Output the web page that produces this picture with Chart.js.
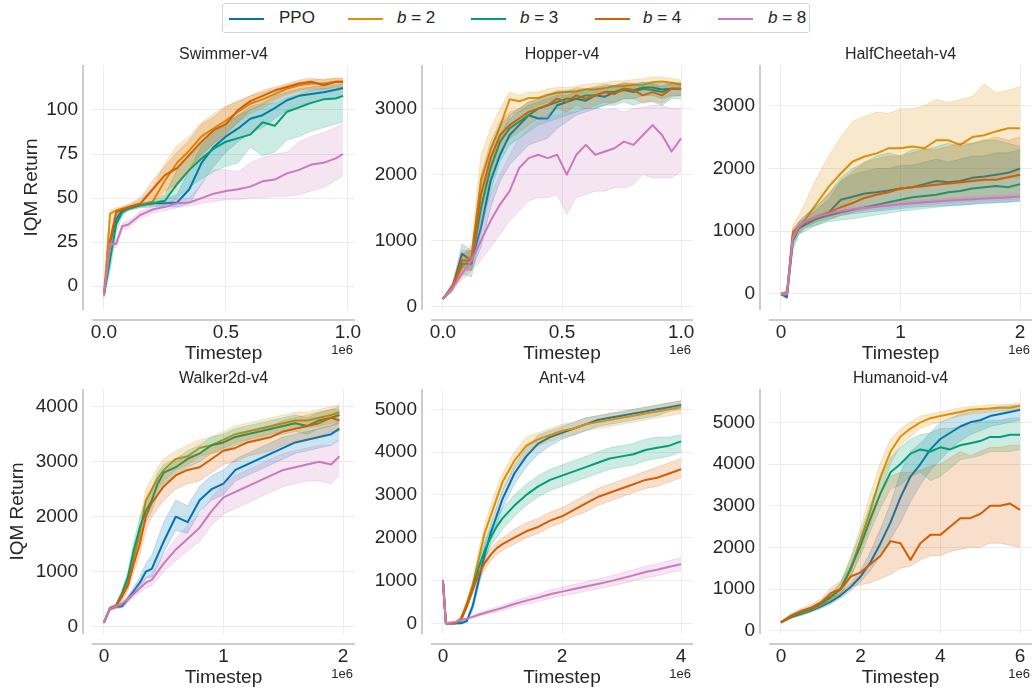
<!DOCTYPE html>
<html>
<head>
<meta charset="utf-8">
<script src="https://cdn.jsdelivr.net/npm/chart.js@4.4.1/dist/chart.umd.min.js"></script>
<style>
  body { margin: 0; width: 1036px; height: 694px; background: #fff; position: relative; overflow: hidden;
         font-family: "Liberation Sans", Arial, sans-serif; color: #262626; }
  canvas { position: absolute; }
  #legend { position: absolute; left: 222px; top: 3px; width: 588px; height: 30px; box-sizing: border-box;
            border: 1px solid #d4d4d4; border-radius: 3px; }
  .sw { position: absolute; top: 14px; width: 35px; height: 2px; }
  .lb { position: absolute; top: 0; height: 28px; line-height: 28px; font-size: 17px; white-space: nowrap; }
</style>
</head>
<body>
<div id="legend">
  <div class="sw" style="left:6px;background:#0173b2"></div><div class="lb" style="left:56px">PPO</div>
  <div class="sw" style="left:125px;background:#de8f05"></div><div class="lb" style="left:174px"><i>b</i> = 2</div>
  <div class="sw" style="left:248px;background:#029e73"></div><div class="lb" style="left:297px"><i>b</i> = 3</div>
  <div class="sw" style="left:372px;background:#d55e00"></div><div class="lb" style="left:420px"><i>b</i> = 4</div>
  <div class="sw" style="left:495px;background:#cc78bc"></div><div class="lb" style="left:545px"><i>b</i> = 8</div>
</div>
<canvas id="swimmer"></canvas>
<canvas id="hopper"></canvas>
<canvas id="halfcheetah"></canvas>
<canvas id="walker"></canvas>
<canvas id="ant"></canvas>
<canvas id="humanoid"></canvas>
<script>
// ---- data (x in units of 1e6 timesteps) ----

// Swimmer-v4
const swimmerX      = [0, 0.025, 0.05, 0.075, 0.1, 0.15, 0.2, 0.25, 0.3, 0.35, 0.4, 0.45, 0.5, 0.55, 0.6, 0.65, 0.7, 0.75, 0.8, 0.85, 0.9, 0.95, 0.98];
const swimmerPPO    = [-5, 25, 38, 43, 44, 46, 47, 47, 47.5, 55, 70, 79, 85, 89.5, 95, 97, 101, 105.5, 108, 109, 110, 111.5, 112.5];
const swimmerPPOLo  = [-6, 20, 35, 41, 43, 44.5, 45, 45, 45, 47, 58, 68, 76, 82, 87, 90, 95, 100, 103, 104, 106, 107, 108];
const swimmerPPOHi  = [-4, 30, 41, 44, 45, 47, 48, 49, 52, 66, 80, 87, 92, 97, 102, 104, 108, 110, 112, 113, 114, 114.5, 115];
const swimmerB2     = [-5, 41, 43, 44, 44.5, 46, 48, 60, 70, 77, 85, 89.5, 94, 99, 103.5, 106, 109, 112, 114, 115, 115, 116, 116];
const swimmerB2Lo   = [-6, 35, 41, 43, 43.5, 45, 46, 50, 57, 66, 74, 81, 87, 93, 98, 101, 105, 108, 110, 111, 112, 113, 113];
const swimmerB2Hi   = [-4, 43, 44.5, 45, 46, 49, 56, 70, 80, 85, 93, 98, 102, 105, 108, 110, 112, 114, 116, 117, 117.5, 118, 118];
const swimmerB3     = [-5, 15, 35, 42, 44, 46, 47, 48.5, 58, 66, 72.5, 78, 82, 84, 86, 93, 91, 99, 101.5, 104, 106, 106.5, 108];
const swimmerB3Lo   = [-6, 8, 30, 40, 43, 45, 46, 46, 50, 56, 61, 65, 68, 70, 79, 74, 76, 83, 85, 88, 90, 92, 93];
const swimmerB3Hi   = [-4, 22, 40, 44, 45, 47, 48.5, 52, 66, 75, 82, 88, 93, 97, 100, 103, 104, 107, 109, 111, 112, 112.5, 113];
const swimmerB4     = [-5, 25, 42, 43.5, 45, 47, 55, 63, 67, 74.5, 82, 88.5, 92, 100, 105, 108, 111, 113, 115, 116, 114, 116, 116];
const swimmerB4Lo   = [-6, 20, 40, 42, 44, 45.5, 48, 54, 58, 66, 75, 81, 86, 93, 100, 103, 106, 109, 111, 112, 112, 113, 114];
const swimmerB4Hi   = [-4, 30, 43.5, 45, 46.5, 50, 60, 68, 76, 83, 92, 96, 102, 105, 108, 111, 113, 115, 117, 118, 117, 118, 118];
const swimmerB8     = [-5, 24, 24, 34, 35, 40.5, 43.5, 45, 47, 47.5, 50, 52.5, 54, 55, 56.5, 59.5, 60.5, 64, 66, 69, 70, 72.5, 75];
const swimmerB8Lo   = [-6, 22, 22, 32, 33, 38.5, 41.5, 43, 44.5, 45.5, 47, 48, 49, 49, 50, 50, 51, 51, 52, 54, 56, 60, 63];
const swimmerB8Hi   = [-4, 26, 26, 36, 37, 42.5, 45.5, 47, 49.5, 50, 58, 66, 66, 65, 70, 73, 75, 76, 82, 85, 87, 90, 92];

// Hopper-v4
const hopperX      = [0, 0.04, 0.08, 0.12, 0.16, 0.2, 0.24, 0.28, 0.32, 0.36, 0.4, 0.44, 0.48, 0.52, 0.56, 0.6, 0.64, 0.68, 0.72, 0.76, 0.8, 0.84, 0.88, 0.92, 0.96, 1.0];
const hopperPPO    = [120, 280, 800, 700, 1200, 1900, 2300, 2600, 2750, 2900, 2850, 2850, 3050, 3100, 3150, 3120, 3200, 3180, 3250, 3300, 3280, 3320, 3320, 3290, 3300, 3300];
const hopperPPOLo  = [110, 230, 600, 550, 900, 1500, 1900, 2150, 2300, 2450, 2500, 2550, 2700, 2800, 2900, 2950, 3000, 3050, 3100, 3150, 3150, 3200, 3200, 3150, 3200, 3200];
const hopperPPOHi  = [130, 330, 950, 850, 1500, 2250, 2600, 2850, 2950, 3050, 3100, 3150, 3200, 3200, 3250, 3250, 3300, 3300, 3350, 3380, 3380, 3400, 3400, 3380, 3380, 3380];
const hopperB2     = [120, 310, 600, 760, 1920, 2380, 2730, 3140, 3110, 3160, 3160, 3210, 3240, 3250, 3260, 3290, 3290, 3310, 3340, 3340, 3360, 3360, 3400, 3410, 3390, 3360];
const hopperB2Lo   = [110, 260, 450, 600, 1500, 2050, 2450, 2900, 2950, 3000, 3050, 3100, 3150, 3170, 3180, 3200, 3200, 3220, 3250, 3260, 3280, 3280, 3320, 3330, 3300, 3280];
const hopperB2Hi   = [130, 360, 750, 950, 2300, 2700, 3000, 3250, 3200, 3250, 3250, 3300, 3320, 3320, 3340, 3370, 3380, 3390, 3420, 3420, 3440, 3450, 3480, 3480, 3460, 3430];
const hopperB3     = [120, 300, 650, 650, 1500, 2100, 2500, 2700, 2800, 2900, 3000, 3050, 3100, 3150, 3150, 3200, 3200, 3250, 3250, 3280, 3250, 3300, 3280, 3250, 3300, 3300];
const hopperB3Lo   = [110, 250, 500, 450, 1150, 1750, 2200, 2450, 2550, 2650, 2750, 2800, 2850, 2900, 2950, 3000, 3000, 3050, 3050, 3100, 3050, 3100, 3100, 3050, 3150, 3150];
const hopperB3Hi   = [130, 350, 800, 850, 1850, 2400, 2750, 2900, 3000, 3100, 3150, 3200, 3250, 3280, 3280, 3300, 3320, 3350, 3350, 3370, 3350, 3400, 3380, 3350, 3380, 3380];
const hopperB4     = [120, 300, 700, 700, 1700, 2250, 2600, 2750, 2850, 2950, 3000, 3050, 3150, 3100, 3200, 3150, 3200, 3250, 3220, 3300, 3280, 3200, 3250, 3200, 3300, 3300];
const hopperB4Lo   = [110, 250, 550, 550, 1350, 1950, 2350, 2550, 2650, 2750, 2850, 2900, 3000, 2950, 3050, 3000, 3050, 3100, 3080, 3150, 3150, 3080, 3120, 3080, 3180, 3200];
const hopperB4Hi   = [130, 350, 850, 850, 2000, 2500, 2800, 2950, 3000, 3100, 3150, 3200, 3280, 3250, 3320, 3300, 3330, 3370, 3350, 3400, 3380, 3320, 3370, 3330, 3400, 3400];
const hopperB8     = [120, 280, 500, 700, 1000, 1300, 1550, 1750, 2100, 2250, 2300, 2250, 2300, 2000, 2300, 2450, 2300, 2350, 2400, 2500, 2450, 2600, 2750, 2600, 2350, 2550];
const hopperB8Lo   = [110, 240, 400, 550, 700, 900, 1100, 1300, 1450, 1600, 1650, 1650, 1700, 1400, 1650, 1700, 1750, 1750, 1800, 1800, 1850, 2000, 1950, 1950, 1950, 2050];
const hopperB8Hi   = [130, 320, 600, 850, 1300, 1700, 2000, 2300, 2550, 2700, 2800, 2900, 2900, 2950, 2950, 3000, 3000, 2980, 3000, 2950, 3000, 3020, 3050, 3050, 3000, 3000];

// HalfCheetah-v4
const cheetahX     = [0, 0.05, 0.1, 0.15, 0.2, 0.3, 0.4, 0.5, 0.6, 0.7, 0.8, 0.9, 1.0, 1.1, 1.2, 1.3, 1.4, 1.5, 1.6, 1.7, 1.8, 1.9, 2.0];
const cheetahPPO   = [0, -50, 850, 1050, 1100, 1200, 1300, 1500, 1550, 1600, 1620, 1650, 1680, 1700, 1750, 1800, 1780, 1800, 1850, 1870, 1900, 1930, 2000];
const cheetahPPOLo = [-20, -80, 700, 950, 1000, 1100, 1180, 1250, 1280, 1300, 1320, 1340, 1360, 1380, 1390, 1400, 1410, 1420, 1430, 1440, 1450, 1460, 1480];
const cheetahPPOHi = [20, -20, 950, 1150, 1200, 1350, 1500, 1800, 1900, 1950, 2000, 2000, 2050, 2050, 2100, 2150, 2100, 2150, 2200, 2200, 2250, 2250, 2300];
const cheetahB2    = [0, 30, 990, 1070, 1180, 1445, 1710, 1920, 2110, 2190, 2240, 2320, 2320, 2350, 2320, 2450, 2450, 2375, 2500, 2530, 2590, 2640, 2640];
const cheetahB2Lo  = [-20, 0, 800, 950, 1050, 1150, 1300, 1400, 1500, 1550, 1600, 1650, 1650, 1700, 1700, 1750, 1750, 1750, 1800, 1800, 1850, 1850, 1850];
const cheetahB2Hi  = [20, 60, 1100, 1250, 1450, 1850, 2200, 2500, 2750, 2830, 2900, 2880, 2950, 2950, 3000, 3100, 3050, 3100, 3150, 3350, 3200, 3250, 3300];
const cheetahB3    = [0, 0, 900, 1050, 1130, 1200, 1250, 1300, 1340, 1380, 1420, 1460, 1500, 1540, 1560, 1580, 1620, 1640, 1680, 1700, 1720, 1700, 1750];
const cheetahB3Lo  = [-20, -30, 800, 950, 1050, 1100, 1150, 1180, 1200, 1230, 1260, 1290, 1320, 1340, 1360, 1380, 1400, 1410, 1430, 1450, 1460, 1470, 1480];
const cheetahB3Hi  = [20, 30, 1000, 1150, 1250, 1400, 1600, 1850, 2000, 2100, 2200, 2250, 2200, 2300, 2300, 2350, 2400, 2350, 2400, 2450, 2450, 2400, 2350];
const cheetahB4    = [0, 0, 950, 1080, 1150, 1230, 1300, 1380, 1450, 1530, 1580, 1620, 1680, 1700, 1720, 1740, 1760, 1780, 1800, 1820, 1820, 1860, 1900];
const cheetahB4Lo  = [-20, -30, 850, 1000, 1080, 1150, 1200, 1250, 1300, 1350, 1380, 1400, 1420, 1440, 1450, 1460, 1480, 1490, 1500, 1510, 1520, 1530, 1550];
const cheetahB4Hi  = [20, 30, 1050, 1150, 1250, 1400, 1600, 1800, 1950, 2100, 2150, 2200, 2200, 2250, 2300, 2300, 2350, 2400, 2400, 2450, 2500, 2450, 2500];
const cheetahB8    = [0, 0, 900, 1080, 1150, 1230, 1280, 1320, 1350, 1370, 1390, 1410, 1430, 1445, 1460, 1475, 1490, 1500, 1510, 1520, 1530, 1540, 1550];
const cheetahB8Lo  = [-20, -30, 850, 1040, 1110, 1190, 1240, 1280, 1310, 1330, 1350, 1370, 1390, 1405, 1420, 1435, 1450, 1460, 1470, 1480, 1490, 1500, 1510];
const cheetahB8Hi  = [20, 30, 950, 1120, 1190, 1270, 1320, 1360, 1390, 1410, 1430, 1450, 1470, 1485, 1500, 1515, 1530, 1540, 1550, 1560, 1570, 1580, 1590];

// Walker2d-v4
const walkerX      = [0, 0.05, 0.1, 0.15, 0.2, 0.25, 0.3, 0.35, 0.4, 0.45, 0.5, 0.6, 0.7, 0.8, 0.9, 1.0, 1.1, 1.2, 1.3, 1.4, 1.5, 1.6, 1.7, 1.8, 1.9, 1.97];
const walkerPPO    = [80, 330, 360, 370, 500, 650, 800, 1000, 1050, 1300, 1550, 2000, 1900, 2300, 2500, 2600, 2850, 2950, 3050, 3150, 3250, 3350, 3400, 3450, 3500, 3600];
const walkerPPOLo  = [60, 300, 330, 340, 450, 580, 700, 880, 900, 1100, 1350, 1750, 1700, 2100, 2300, 2400, 2650, 2750, 2850, 2950, 3050, 3150, 3200, 3250, 3300, 3400];
const walkerPPOHi  = [100, 360, 390, 400, 560, 720, 900, 1150, 1300, 1600, 1900, 2300, 2200, 2550, 2750, 2850, 3050, 3150, 3250, 3350, 3450, 3500, 3550, 3600, 3650, 3750];
const walkerB2     = [80, 330, 360, 550, 800, 1250, 1700, 2300, 2500, 2700, 2850, 3050, 3100, 3250, 3300, 3400, 3500, 3550, 3600, 3650, 3700, 3750, 3750, 3800, 3850, 3900];
const walkerB2Lo   = [60, 300, 330, 480, 700, 1100, 1500, 2050, 2300, 2500, 2650, 2850, 2950, 3100, 3150, 3250, 3350, 3400, 3450, 3500, 3550, 3600, 3620, 3650, 3700, 3750];
const walkerB2Hi   = [100, 360, 390, 620, 900, 1400, 1900, 2500, 2700, 2900, 3050, 3200, 3300, 3400, 3450, 3550, 3650, 3700, 3750, 3800, 3850, 3900, 3900, 3950, 4000, 4050];
const walkerB3     = [80, 330, 380, 600, 900, 1400, 1800, 2100, 2300, 2600, 2800, 2900, 3050, 3150, 3300, 3350, 3450, 3500, 3550, 3600, 3650, 3700, 3650, 3750, 3800, 3850];
const walkerB3Lo   = [60, 300, 350, 530, 800, 1250, 1600, 1900, 2100, 2400, 2600, 2750, 2900, 3000, 3150, 3200, 3300, 3350, 3400, 3450, 3500, 3550, 3500, 3600, 3650, 3700];
const walkerB3Hi   = [100, 360, 410, 670, 1000, 1550, 2000, 2300, 2500, 2800, 2950, 3050, 3200, 3300, 3450, 3500, 3600, 3650, 3700, 3750, 3800, 3850, 3800, 3900, 3950, 4000];
const walkerB4     = [80, 330, 380, 550, 750, 1150, 1500, 2000, 2250, 2400, 2550, 2750, 2850, 2900, 3050, 3200, 3250, 3350, 3400, 3450, 3550, 3600, 3650, 3700, 3800, 3750];
const walkerB4Lo   = [60, 300, 350, 480, 650, 1000, 1300, 1750, 2000, 2150, 2300, 2500, 2600, 2650, 2800, 2950, 3000, 3100, 3150, 3200, 3300, 3350, 3400, 3450, 3550, 3550];
const walkerB4Hi   = [100, 360, 410, 620, 850, 1300, 1700, 2250, 2500, 2650, 2800, 3000, 3100, 3150, 3300, 3400, 3450, 3550, 3600, 3650, 3750, 3800, 3850, 3900, 3950, 3950];
const walkerB8     = [80, 320, 370, 420, 500, 600, 700, 800, 850, 1000, 1150, 1400, 1600, 1800, 2100, 2350, 2450, 2550, 2650, 2750, 2850, 2900, 2950, 3000, 2950, 3100];
const walkerB8Lo   = [60, 290, 340, 380, 450, 530, 620, 700, 740, 870, 1000, 1200, 1380, 1550, 1850, 2050, 2150, 2250, 2350, 2450, 2550, 2600, 2650, 2650, 2600, 2750];
const walkerB8Hi   = [100, 350, 400, 460, 550, 670, 780, 900, 960, 1130, 1300, 1600, 1850, 2050, 2350, 2600, 2750, 2850, 2950, 3050, 3150, 3200, 3250, 3300, 3300, 3400];

// Ant-v4
const antX      = [0, 0.05, 0.2, 0.3, 0.4, 0.5, 0.6, 0.7, 0.8, 0.9, 1.0, 1.2, 1.4, 1.6, 1.8, 2.0, 2.2, 2.4, 2.6, 2.8, 3.0, 3.2, 3.4, 3.6, 3.8, 4.0];
const antPPO    = [1000, 0, 0, 0, 50, 400, 1000, 1600, 2100, 2500, 2900, 3500, 3900, 4200, 4350, 4450, 4550, 4650, 4750, 4800, 4850, 4900, 4950, 5000, 5050, 5100];
const antPPOLo  = [1000, -20, -20, -20, 20, 300, 850, 1400, 1900, 2300, 2700, 3250, 3650, 3950, 4150, 4300, 4400, 4500, 4600, 4650, 4700, 4750, 4800, 4850, 4950, 5000];
const antPPOHi  = [1000, 20, 20, 20, 90, 500, 1150, 1800, 2300, 2700, 3100, 3700, 4100, 4400, 4500, 4600, 4700, 4800, 4850, 4900, 4950, 5000, 5050, 5100, 5150, 5200];
const antB2     = [1000, 0, 0, 100, 460, 900, 1500, 2100, 2500, 2900, 3300, 3800, 4150, 4300, 4400, 4500, 4550, 4650, 4700, 4750, 4800, 4850, 4900, 4950, 5000, 5050];
const antB2Lo   = [1000, -20, -20, 60, 380, 780, 1350, 1900, 2300, 2700, 3100, 3600, 3950, 4150, 4250, 4350, 4400, 4500, 4550, 4600, 4650, 4700, 4750, 4800, 4850, 4900];
const antB2Hi   = [1000, 20, 20, 140, 540, 1020, 1700, 2300, 2750, 3150, 3500, 4000, 4350, 4450, 4550, 4650, 4700, 4800, 4850, 4900, 4950, 5000, 5050, 5100, 5150, 5200];
const antB3     = [1000, 0, 0, 50, 400, 800, 1300, 1700, 2000, 2250, 2450, 2750, 3000, 3200, 3350, 3450, 3550, 3650, 3750, 3850, 3900, 3950, 4050, 4100, 4150, 4250];
const antB3Lo   = [1000, -20, -20, 20, 330, 700, 1150, 1500, 1800, 2000, 2200, 2500, 2750, 2950, 3100, 3200, 3300, 3400, 3500, 3600, 3650, 3700, 3800, 3850, 3900, 4000];
const antB3Hi   = [1000, 20, 20, 80, 470, 900, 1450, 1900, 2200, 2500, 2700, 3000, 3250, 3450, 3600, 3700, 3800, 3900, 4000, 4100, 4150, 4200, 4300, 4350, 4350, 4400];
const antB4     = [1000, 0, 0, 100, 400, 800, 1150, 1400, 1600, 1750, 1850, 2000, 2150, 2250, 2400, 2500, 2650, 2800, 2950, 3050, 3150, 3250, 3350, 3400, 3500, 3600];
const antB4Lo   = [1000, -20, -20, 60, 330, 700, 1030, 1250, 1450, 1600, 1700, 1850, 2000, 2100, 2250, 2350, 2500, 2600, 2750, 2850, 2950, 3050, 3150, 3200, 3300, 3400];
const antB4Hi   = [1000, 20, 20, 140, 470, 900, 1270, 1550, 1750, 1900, 2000, 2200, 2350, 2450, 2600, 2700, 2850, 3000, 3150, 3250, 3350, 3450, 3550, 3650, 3750, 3850];
const antB8     = [1000, 0, 30, 70, 110, 150, 200, 240, 280, 320, 360, 450, 530, 600, 680, 740, 800, 860, 920, 980, 1050, 1120, 1200, 1250, 1320, 1380];
const antB8Lo   = [1000, -20, 10, 50, 90, 120, 160, 200, 230, 260, 300, 380, 450, 510, 580, 640, 690, 750, 800, 860, 920, 990, 1060, 1110, 1180, 1230];
const antB8Hi   = [1000, 20, 50, 90, 130, 180, 240, 280, 330, 380, 420, 520, 610, 690, 780, 840, 910, 970, 1040, 1100, 1180, 1250, 1340, 1390, 1460, 1540];

// Humanoid-v4 (no b = 8 run)
const humX      = [0, 0.25, 0.5, 0.75, 1.0, 1.25, 1.5, 1.75, 2.0, 2.25, 2.5, 2.75, 3.0, 3.25, 3.5, 3.75, 4.0, 4.25, 4.5, 4.75, 5.0, 5.25, 5.5, 5.75, 6.0];
const humPPO    = [200, 320, 400, 480, 580, 700, 850, 1050, 1300, 1650, 2100, 2600, 3200, 3700, 4000, 4350, 4600, 4750, 4900, 5000, 5050, 5150, 5200, 5250, 5300];
const humPPOLo  = [180, 290, 360, 440, 530, 640, 780, 960, 1180, 1450, 1800, 2200, 2600, 3100, 3500, 3850, 4100, 4350, 4550, 4700, 4800, 4900, 4950, 5000, 5050];
const humPPOHi  = [220, 350, 440, 520, 630, 760, 920, 1150, 1450, 1900, 2450, 3050, 3800, 4300, 4500, 4750, 5000, 5100, 5200, 5250, 5300, 5350, 5380, 5400, 5420];
const humB2     = [200, 350, 430, 500, 620, 780, 1000, 1460, 2180, 2900, 3700, 4300, 4660, 4850, 5000, 5100, 5150, 5200, 5250, 5300, 5320, 5330, 5350, 5350, 5400];
const humB2Lo   = [180, 310, 390, 460, 570, 700, 880, 1250, 1900, 2550, 3300, 4000, 4450, 4650, 4850, 4950, 5000, 5100, 5150, 5200, 5220, 5250, 5270, 5280, 5320];
const humB2Hi   = [220, 390, 470, 540, 680, 860, 1150, 1750, 2500, 3300, 4050, 4600, 4850, 5000, 5150, 5200, 5250, 5300, 5350, 5380, 5400, 5420, 5430, 5440, 5460];
const humB3     = [200, 350, 450, 520, 650, 820, 1000, 1500, 2050, 2700, 3300, 3800, 4000, 4250, 4350, 4300, 4400, 4350, 4450, 4500, 4550, 4650, 4650, 4700, 4700];
const humB3Lo   = [180, 310, 400, 470, 590, 740, 880, 1300, 1800, 2400, 2950, 3400, 3500, 3700, 3800, 3600, 3700, 3900, 4100, 4150, 4200, 4300, 4300, 4300, 4350];
const humB3Hi   = [220, 390, 500, 570, 710, 900, 1150, 1750, 2350, 3050, 3650, 4150, 4400, 4600, 4700, 4750, 4850, 4850, 4900, 4950, 5000, 5050, 5050, 5100, 5100];
const humB4     = [200, 350, 470, 550, 680, 900, 1000, 1300, 1400, 1600, 1800, 2150, 2100, 1700, 2100, 2300, 2300, 2500, 2700, 2700, 2800, 3000, 3000, 3050, 2900];
const humB4Lo   = [180, 300, 410, 480, 600, 780, 850, 1050, 1100, 1150, 1250, 1350, 1500, 1550, 1700, 1800, 1800, 1900, 1950, 2000, 2000, 2100, 2100, 2050, 2000];
const humB4Hi   = [220, 400, 530, 620, 760, 1020, 1200, 1600, 2200, 2800, 3300, 3700, 3800, 3800, 3850, 3950, 4000, 4150, 4300, 4200, 4300, 4400, 4400, 4450, 4450];

// tick values / labels
const unitXTicks  = [0, 0.5, 1.0];
const unitXLabels = ['0.0', '0.5', '1.0'];
const twoXTicks   = [0, 1, 2];
const fourXTicks  = [0, 2, 4];
const sixXTicks   = [0, 2, 4, 6];
const swimmerYTicks = [0, 25, 50, 75, 100];
const hopperYTicks  = [0, 1000, 2000, 3000];
const cheetahYTicks = [0, 1000, 2000, 3000];
const walkerYTicks  = [0, 1000, 2000, 3000, 4000];
const antYTicks     = [0, 1000, 2000, 3000, 4000, 5000];
const humYTicks     = [0, 1000, 2000, 3000, 4000, 5000];

const PALETTE = ['#0173b2', '#de8f05', '#029e73', '#d55e00', '#cc78bc'];
const FONT = '"Liberation Sans", Arial, Helvetica, sans-serif';
const INK = '#262626';

// page geometry of the six plot areas
const colCanvas = [[0, 365], [365, 335], [700, 336]];
const rowCanvas = [[36, 329], [365, 329]];
const colLeft = [92, 431, 769], colRight = [355, 693, 1032];
const rowTop = [65, 389], rowBottom = [310, 634];

function rgba(hex, a) {
  const n = parseInt(hex.slice(1), 16);
  return 'rgba(' + (n >> 16) + ',' + ((n >> 8) & 255) + ',' + (n & 255) + ',' + a + ')';
}

const decor = {
  id: 'decor',
  afterDraw(chart, args, o) {
    const ctx = chart.ctx, a = chart.chartArea;
    const cx = (a.left + a.right) / 2;
    ctx.save();
    ctx.strokeStyle = '#cccccc';
    ctx.lineWidth = 2;
    ctx.beginPath();
    ctx.moveTo(a.left - 9, a.top); ctx.lineTo(a.left - 9, a.bottom);
    ctx.moveTo(a.left, a.bottom + 10); ctx.lineTo(a.right, a.bottom + 10);
    ctx.stroke();
    ctx.fillStyle = INK;
    ctx.textAlign = 'center';
    ctx.textBaseline = 'middle';
    ctx.font = '16px ' + FONT;
    ctx.fillText(o.title, cx, a.top - 10);
    ctx.font = '19px ' + FONT;
    ctx.fillText('Timestep', cx, a.bottom + 43.5);
    ctx.font = '13px ' + FONT;
    ctx.textAlign = 'right';
    ctx.fillText('1e6', a.right - 2, a.bottom + 40.5);
    if (o.yLabelGap) {
      ctx.translate(a.left - o.yLabelGap, (a.top + a.bottom) / 2);
      ctx.rotate(-Math.PI / 2);
      ctx.textAlign = 'center';
      ctx.font = '19px ' + FONT;
      ctx.fillText('IQM Return', 0, 0);
    }
    ctx.restore();
  }
};

function makePanel(p) {
  const el = document.getElementById(p.id);
  const [cl, cw] = colCanvas[p.col], [ct, ch] = rowCanvas[p.row];
  el.style.left = cl + 'px'; el.style.top = ct + 'px';
  el.width = cw; el.height = ch;

  const n = p.series.length;
  const datasets = [];
  p.series.forEach((s, i) => {
    const c = PALETTE[s.k];
    const pts = ys => p.x.map((x, j) => ({ x: x, y: ys[j] }));
    datasets.push({ data: pts(s.hi), borderColor: rgba(c, 0.2), borderWidth: 1, pointRadius: 0,
                    fill: false, order: 2 * (n - i) + 1 });
    datasets.push({ data: pts(s.lo), borderColor: rgba(c, 0.2), borderWidth: 1, pointRadius: 0,
                    fill: '-1', backgroundColor: rgba(c, 0.2), order: 2 * (n - i) + 1 });
    datasets.push({ data: pts(s.mean), borderColor: c, borderWidth: 2, pointRadius: 0,
                    borderJoinStyle: 'round', fill: false, order: 2 * (n - i) });
  });

  const tickFont = { family: FONT, size: 19 };
  new Chart(el, {
    type: 'line',
    data: { datasets: datasets },
    plugins: [decor],
    options: {
      responsive: false, animation: false, devicePixelRatio: 1,
      layout: { padding: { top: rowTop[p.row] - ct, right: cl + cw - colRight[p.col], left: 0, bottom: 0 } },
      scales: {
        x: {
          type: 'linear', min: p.xMin, max: p.xMax,
          afterBuildTicks: sc => { sc.ticks = p.xTicks.map(v => ({ value: v })); },
          afterFit: sc => { sc.height = ct + ch - rowBottom[p.row]; sc.paddingLeft = 0; sc.paddingRight = 0; },
          ticks: { font: tickFont, color: INK, padding: 11, maxRotation: 0, autoSkip: false,
                   callback: v => p.xLabels[p.xTicks.indexOf(v)] },
          grid: { color: '#ececec', drawTicks: false },
          border: { display: false }
        },
        y: {
          type: 'linear', min: p.yMin, max: p.yMax,
          afterBuildTicks: sc => { sc.ticks = p.yTicks.map(v => ({ value: v })); },
          afterFit: sc => { sc.width = colLeft[p.col] - cl; sc.paddingTop = 0; sc.paddingBottom = 0; },
          ticks: { font: tickFont, color: INK, padding: 14, autoSkip: false, callback: v => String(v) },
          grid: { color: '#ececec', drawTicks: false },
          border: { display: false }
        }
      },
      plugins: {
        legend: { display: false },
        tooltip: { enabled: false },
        decor: { title: p.title, yLabelGap: p.yLabelGap }
      }
    }
  });
}

makePanel({ id: 'swimmer', title: 'Swimmer-v4', col: 0, row: 0, yLabelGap: 60,
  x: swimmerX, xMin: -0.049, xMax: 1.029, yMin: -13.5, yMax: 125.5,
  xTicks: unitXTicks, xLabels: unitXLabels, yTicks: swimmerYTicks,
  series: [
    { k: 0, mean: swimmerPPO, lo: swimmerPPOLo, hi: swimmerPPOHi },
    { k: 1, mean: swimmerB2, lo: swimmerB2Lo, hi: swimmerB2Hi },
    { k: 2, mean: swimmerB3, lo: swimmerB3Lo, hi: swimmerB3Hi },
    { k: 3, mean: swimmerB4, lo: swimmerB4Lo, hi: swimmerB4Hi },
    { k: 4, mean: swimmerB8, lo: swimmerB8Lo, hi: swimmerB8Hi }
  ] });

makePanel({ id: 'hopper', title: 'Hopper-v4', col: 1, row: 0, yLabelGap: 0,
  x: hopperX, xMin: -0.05, xMax: 1.05, yMin: -50, yMax: 3660,
  xTicks: unitXTicks, xLabels: unitXLabels, yTicks: hopperYTicks,
  series: [
    { k: 0, mean: hopperPPO, lo: hopperPPOLo, hi: hopperPPOHi },
    { k: 1, mean: hopperB2, lo: hopperB2Lo, hi: hopperB2Hi },
    { k: 2, mean: hopperB3, lo: hopperB3Lo, hi: hopperB3Hi },
    { k: 3, mean: hopperB4, lo: hopperB4Lo, hi: hopperB4Hi },
    { k: 4, mean: hopperB8, lo: hopperB8Lo, hi: hopperB8Hi }
  ] });

makePanel({ id: 'halfcheetah', title: 'HalfCheetah-v4', col: 2, row: 0, yLabelGap: 0,
  x: cheetahX, xMin: -0.1, xMax: 2.1, yMin: -255, yMax: 3648,
  xTicks: twoXTicks, xLabels: ['0', '1', '2'], yTicks: cheetahYTicks,
  series: [
    { k: 0, mean: cheetahPPO, lo: cheetahPPOLo, hi: cheetahPPOHi },
    { k: 1, mean: cheetahB2, lo: cheetahB2Lo, hi: cheetahB2Hi },
    { k: 2, mean: cheetahB3, lo: cheetahB3Lo, hi: cheetahB3Hi },
    { k: 3, mean: cheetahB4, lo: cheetahB4Lo, hi: cheetahB4Hi },
    { k: 4, mean: cheetahB8, lo: cheetahB8Lo, hi: cheetahB8Hi }
  ] });

makePanel({ id: 'walker', title: 'Walker2d-v4', col: 0, row: 1, yLabelGap: 74,
  x: walkerX, xMin: -0.1, xMax: 2.1, yMin: -133, yMax: 4322,
  xTicks: twoXTicks, xLabels: ['0', '1', '2'], yTicks: walkerYTicks,
  series: [
    { k: 0, mean: walkerPPO, lo: walkerPPOLo, hi: walkerPPOHi },
    { k: 1, mean: walkerB2, lo: walkerB2Lo, hi: walkerB2Hi },
    { k: 2, mean: walkerB3, lo: walkerB3Lo, hi: walkerB3Hi },
    { k: 3, mean: walkerB4, lo: walkerB4Lo, hi: walkerB4Hi },
    { k: 4, mean: walkerB8, lo: walkerB8Lo, hi: walkerB8Hi }
  ] });

makePanel({ id: 'ant', title: 'Ant-v4', col: 1, row: 1, yLabelGap: 0,
  x: antX, xMin: -0.2, xMax: 4.2, yMin: -250, yMax: 5474,
  xTicks: fourXTicks, xLabels: ['0', '2', '4'], yTicks: antYTicks,
  series: [
    { k: 0, mean: antPPO, lo: antPPOLo, hi: antPPOHi },
    { k: 1, mean: antB2, lo: antB2Lo, hi: antB2Hi },
    { k: 2, mean: antB3, lo: antB3Lo, hi: antB3Hi },
    { k: 3, mean: antB4, lo: antB4Lo, hi: antB4Hi },
    { k: 4, mean: antB8, lo: antB8Lo, hi: antB8Hi }
  ] });

makePanel({ id: 'humanoid', title: 'Humanoid-v4', col: 2, row: 1, yLabelGap: 0,
  x: humX, xMin: -0.3, xMax: 6.3, yMin: -79, yMax: 5800,
  xTicks: sixXTicks, xLabels: ['0', '2', '4', '6'], yTicks: humYTicks,
  series: [
    { k: 0, mean: humPPO, lo: humPPOLo, hi: humPPOHi },
    { k: 1, mean: humB2, lo: humB2Lo, hi: humB2Hi },
    { k: 2, mean: humB3, lo: humB3Lo, hi: humB3Hi },
    { k: 3, mean: humB4, lo: humB4Lo, hi: humB4Hi }
  ] });
</script>
</body>
</html>
